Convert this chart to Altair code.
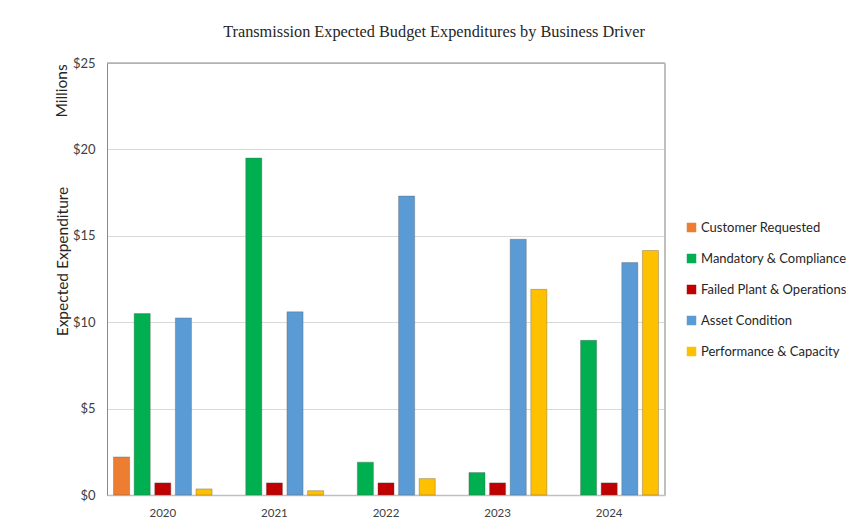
import altair as alt
import pandas as pd

years = ["2020", "2021", "2022", "2023", "2024"]
series = ["Customer Requested", "Mandatory & Compliance", "Failed Plant & Operations",
          "Asset Condition", "Performance & Capacity"]
colors = ["#ED7D31", "#00B050", "#C00000", "#5B9BD5", "#FFC000"]

customer_requested = [2.2, None, None, None, None]
mandatory_compliance = [10.5, 19.5, 1.9, 1.3, 8.95]
failed_plant = [0.7, 0.7, 0.7, 0.7, 0.7]
asset_condition = [10.25, 10.6, 17.3, 14.8, 13.45]
performance_capacity = [0.35, 0.25, 0.95, 11.9, 14.15]

values = [customer_requested, mandatory_compliance, failed_plant, asset_condition, performance_capacity]
rows = []
for s, vals in zip(series, values):
    for y, v in zip(years, vals):
        if v is not None:
            rows.append({"Year": y, "Driver": s, "Value": v})
df = pd.DataFrame(rows)

W, H = 558, 432
font = "Lato"

bars = alt.Chart(df).mark_bar(strokeWidth=1, strokeOpacity=0.35, stroke="#555555").encode(
    x=alt.X("Year:N", sort=years, title=None,
            scale=alt.Scale(paddingInner=0.08, paddingOuter=0.04),
            axis=alt.Axis(labelAngle=0, labelFontSize=11.5, labelColor="#404040", labelFont=font,
                          ticks=False, domainColor="#c0c0c0", domainWidth=1.5, labelPadding=12)),
    xOffset=alt.XOffset("Driver:N", sort=series,
                        scale=alt.Scale(domain=series, paddingInner=0.22, paddingOuter=0.1)),
    y=alt.Y("Value:Q", scale=alt.Scale(domain=[0, 25]),
            axis=alt.Axis(values=[0, 5, 10, 15, 20, 25], format="$,.0f", labelFontSize=13,
                          labelColor="#404040", labelFont=font, ticks=False, labelPadding=12,
                          gridColor="#d9d9d9", domainColor="#898989",
                          title="Expected Expenditure", titleFont=font, titleFontSize=15.5,
                          titleFontWeight="normal", titleColor="#262626",
                          titleX=-45, titleY=198, titleAngle=270, titleBaseline="middle")),
    color=alt.Color("Driver:N", sort=series, scale=alt.Scale(domain=series, range=colors),
                    legend=alt.Legend(title=None, orient="none", legendX=578, legendY=158,
                                      symbolType="square", symbolSize=90, symbolStrokeWidth=0,
                                      labelFont=font, labelFontSize=13, labelColor="#262626",
                                      rowPadding=17, labelOffset=3, labelLimit=300)),
)

millions = alt.Chart(pd.DataFrame({"t": ["Millions"]})).mark_text(
    angle=270, font=font, fontSize=15.5, color="#262626", baseline="middle", align="center"
).encode(x=alt.value(-45), y=alt.value(28), text="t:N")

top_line = alt.Chart(pd.DataFrame({"a": [0]})).mark_rule(color="#898989", strokeWidth=1).encode(
    x=alt.value(0), x2=alt.value(W), y=alt.value(0))
right_line = alt.Chart(pd.DataFrame({"a": [0]})).mark_rule(color="#bfbfbf", strokeWidth=2).encode(
    x=alt.value(W), y=alt.value(0), y2=alt.value(H))

chart = alt.layer(bars, top_line, right_line, millions).properties(
    width=W, height=H,
    title=alt.TitleParams("Transmission Expected Budget Expenditures by Business Driver",
                          font="Liberation Serif", fontSize=16.3, fontWeight="normal",
                          color="#262626", anchor="middle", frame="group", dx=48, offset=17),
    autosize=alt.AutoSizeParams(type="none"),
    padding={"left": 99, "top": 55, "right": 181, "bottom": 26},
).configure_view(stroke=None)

chart.save("out.html", embed_options={"renderer": "svg", "actions": False})
